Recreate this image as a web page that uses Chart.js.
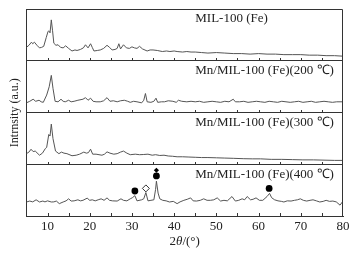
<!DOCTYPE html>
<html>
<head>
<meta charset="utf-8">
<script src="https://cdn.jsdelivr.net/npm/chart.js@4"></script>
<style>
  html, body { margin: 0; padding: 0; background: #fff; }
  #wrap { width: 354px; height: 256px; }
</style>
</head>
<body>
<div id="wrap"><canvas id="myChart"></canvas></div>
<script>
// XRD patterns, [2theta, intensity] — intensity is per panel, 0..100
const mil100 = [[5,26],[5.6,30],[6.2,36],[6.5,33],[6.9,36],[7.5,30],[8.1,25],[8.6,26],[9.1,28],[9.7,45],[10.1,56],[10.3,58],[10.6,54],[10.9,79],[11.2,58],[11.5,34],[12,30],[12.5,31],[13.1,26],[13.7,25],[14.3,29],[15,24],[15.8,19],[16.5,21],[17,20],[17.8,22],[18.5,25],[19,31],[19.6,25],[20.2,33],[20.6,26],[21,19],[21.8,20],[22.5,21],[23.3,24],[24.1,30],[24.7,26],[25.3,21],[26,22],[26.5,24],[26.9,33],[27.3,23],[28,31],[28.7,25],[29.4,24],[30,27],[30.6,25],[31.2,24],[31.8,28],[32.5,23],[33.6,19],[34.3,21],[35,21],[36,20],[37.2,18],[38.2,19],[39,18],[40,19],[40.7,18],[42,17],[43,18],[44,17],[45,17],[46.5,16],[48,15],[50,16],[52,15],[54,14],[56,14],[58,13],[60,14],[62,13],[64,13],[66,12],[68,12],[70,12],[72,11],[74,11],[76,10],[78,10],[80,9]];

const mn200 = [[5,19],[5.8,22],[6.6,26],[7.2,22],[8,24],[8.5,21],[9,20],[9.8,34],[10.4,50],[10.9,72],[11.3,47],[11.8,22],[12.5,21],[13.2,26],[13.7,22],[14.2,21],[15,24],[15.6,21],[16.3,22],[17.2,24],[18.4,26],[19,29],[19.6,24],[20.2,28],[20.8,22],[21.5,21],[22.5,21],[23.3,23],[24.1,29],[24.8,22],[25.6,23],[26.5,21],[27.3,23],[28.2,24],[29,22],[29.6,20],[30.4,22],[31.2,21],[32.3,19],[32.8,24],[33.2,37],[33.6,21],[34.5,20],[35.2,22],[35.7,28],[36.1,20],[37,21],[37.7,21],[38.6,23],[39.7,22],[40.5,20],[41,24],[41.8,22],[43,21],[44,22],[45,21],[46,22],[47,20],[48,21],[49,22],[50,21],[51,20],[52,22],[53,21],[54,26],[54.5,21],[55.5,21],[56.5,22],[57.5,20],[58.5,21],[59.5,22],[60.5,21],[61.5,20],[62.5,22],[63.5,21],[64.5,20],[65.5,22],[66.5,21],[67.5,20],[68.5,21],[69.5,22],[70.5,20],[71.5,21],[72.5,22],[73.5,20],[74.5,21],[75.5,22],[76.5,21],[77.5,20],[78.5,21],[80,21]];

const mn300 = [[5,21],[5.6,24],[6.1,29.5],[6.6,25],[7.1,26],[8.1,18],[8.8,22],[9.5,31],[9.8,33],[10.3,58],[10.6,55],[10.9,78],[11.3,50],[11.9,26],[12.7,21],[13.3,24],[13.9,22],[14.6,21],[15.8,17],[16.8,18],[17.6,20],[18.6,24],[19.2,22],[19.7,23],[20.2,29.6],[20.7,20],[21.5,20],[22.9,18],[23.5,20],[24.1,24.5],[24.8,22],[25.7,20],[26.5,21],[27.3,24],[28,26],[28.8,22],[29.6,19],[30.8,20],[31.8,19],[32.8,19.4],[33.8,20],[34.8,18],[35.6,19],[36.6,17.5],[37.6,18],[38.6,16.5],[39.6,16],[40.7,15],[42,15],[43.5,14.5],[45,14],[46.5,13.5],[48,13.5],[50,13],[52,12.5],[54,12],[56.5,11.3],[58.5,11],[60.5,11],[63,10],[65.5,10],[68,9.5],[70.5,9],[73,9],[75.5,8.5],[78,8],[80,8]];

const mn400 = [[5,27.8],[5.8,29.6],[6.5,28],[7.3,32],[8.1,27.8],[8.9,29.6],[9.4,28],[10,30],[10.9,27.8],[11.5,28],[12.1,29.6],[12.8,24.6],[13.7,27.8],[14.4,30],[15,33.9],[15.6,29.6],[16.3,30],[17.2,32],[17.8,30],[18.4,31],[19.4,35.2],[20,31],[20.6,32],[21.3,30],[22,32],[22.7,33.9],[23.4,31],[24.1,35.7],[24.7,31],[25.4,30],[26.5,29.6],[27.4,33.9],[28,31],[28.8,30],[29.6,33.9],[30.1,36],[30.7,40],[31.2,30],[32.3,32],[32.8,34],[33.3,46],[33.8,30],[34.5,31],[35.2,32],[35.6,52],[35.8,68],[36.2,45],[36.6,33.9],[37.3,31],[38.1,30],[38.9,27.8],[39.8,29],[40.7,24.6],[41.4,28],[42.3,31],[43.1,33],[43.9,35.7],[44.5,30],[45.3,29.6],[46.2,31],[47,33.9],[47.8,31],[48.6,31],[49.4,32],[50.2,35.7],[51,29.6],[51.8,31],[52.6,30],[53.7,38.3],[54.5,29.6],[55.3,31],[56.1,33.9],[56.7,32],[57.3,38.3],[58.1,32],[58.7,33],[59.4,35.7],[60.2,31],[61,31],[62,38.3],[62.6,44.4],[63.1,36],[63.8,32],[64.6,30],[65.4,29],[66,27.8],[66.8,30],[67.7,29.6],[68.5,31],[69.2,32],[69.9,33.9],[70.6,31],[71.4,29.6],[72.2,31],[72.9,32],[73.7,30],[74.5,27.8],[75.3,29],[76,31],[76.8,29],[77.6,29.6],[78.4,28],[79.3,21.7],[80,29.6]];

// phase markers on the 400 °C pattern
const dotMarks = [[30.7,49],[35.8,78],[62.5,54]];
const openDiamondMarks = [[33.3,54]];
const smallDiamondMarks = [[35.8,89]];

const sampleNames = ['MIL-100 (Fe)', 'Mn/MIL-100 (Fe)(200 ℃)', 'Mn/MIL-100 (Fe)(300 ℃)', 'Mn/MIL-100 (Fe)(400 ℃)'];
const patterns = [mil100, mn200, mn300, mn400];
const panelOffsets = [300, 200, 100, 0];
const xTicks = [10, 20, 30, 40, 50, 60, 70, 80];

const serif = '"Liberation Serif", "Times New Roman", serif';
const lineColor = '#555';

const toPts = (arr, off) => arr.map(p => ({ x: p[0], y: p[1] + off }));

const datasets = patterns.map((p, i) => ({
  label: sampleNames[i],
  data: toPts(p, panelOffsets[i]),
  borderColor: lineColor,
  borderWidth: 1,
  pointRadius: 0,
  tension: 0,
  fill: false
}));

datasets.push({
  type: 'scatter', label: 'dot', data: toPts(dotMarks, 0),
  pointStyle: 'circle', pointRadius: 3.4, backgroundColor: '#000', borderColor: '#000', borderWidth: 0
});
datasets.push({
  type: 'scatter', label: 'open', data: toPts(openDiamondMarks, 0),
  pointStyle: 'rectRot', pointRadius: 3.5, backgroundColor: '#fff', borderColor: '#333', borderWidth: 1
});
datasets.push({
  type: 'scatter', label: 'small', data: toPts(smallDiamondMarks, 0),
  pointStyle: 'rectRot', pointRadius: 2.6, backgroundColor: '#000', borderColor: '#000', borderWidth: 0
});

// frame, inward ticks on every panel, sample names and the x title
const panelDecor = {
  id: 'panelDecor',
  afterDraw(chart) {
    const { ctx, chartArea: a, scales: { x, y } } = chart;
    ctx.save();
    ctx.strokeStyle = '#333';
    ctx.lineWidth = 1;
    ctx.beginPath();
    ctx.moveTo(a.left, a.top + 0.5);
    ctx.lineTo(a.right - 0.5, a.top + 0.5);
    ctx.lineTo(a.right - 0.5, a.bottom);
    ctx.stroke();

    ctx.beginPath();
    [0, 100, 200, 300].forEach(v => {
      const py = Math.round(y.getPixelForValue(v));
      for (let t = 10; t < 80; t += 5) {
        const px = Math.round(x.getPixelForValue(t)) + 0.5;
        ctx.moveTo(px, py);
        ctx.lineTo(px, py - 3);
      }
    });
    ctx.stroke();

    ctx.fillStyle = '#222';
    ctx.font = '13px ' + serif;
    ctx.textBaseline = 'middle';
    ctx.textAlign = 'left';
    sampleNames.forEach((name, i) => {
      const top = y.getPixelForValue(panelOffsets[i] + 100);
      ctx.fillText(name, x.getPixelForValue(45), top + 10);
    });

    // 2θ/(°) with italic theta
    const parts = [['2', ''], ['θ', 'italic '], ['/(°)', '']];
    let w = 0;
    parts.forEach(p => { ctx.font = p[1] + '13px ' + serif; w += ctx.measureText(p[0]).width; });
    let cx = (a.left + a.right) / 2 - w / 2;
    parts.forEach(p => {
      ctx.font = p[1] + '13px ' + serif;
      ctx.fillText(p[0], cx, 242);
      cx += ctx.measureText(p[0]).width;
    });
    ctx.restore();
  }
};

const myChart = new Chart(document.getElementById('myChart'), {
  type: 'line',
  data: { datasets },
  options: {
    responsive: true,
    maintainAspectRatio: false,
    animation: false,
    layout: { padding: { left: 4, right: 11, top: 9, bottom: 20 } },
    plugins: { legend: { display: false }, tooltip: { enabled: false } },
    scales: {
      x: {
        type: 'linear',
        min: 5,
        max: 80,
        afterBuildTicks: s => { s.ticks = xTicks.map(v => ({ value: v })); },
        grid: { display: false, drawTicks: false },
        border: { color: '#333', width: 1 },
        ticks: { color: '#222', font: { family: serif, size: 13 }, padding: 2, autoSkip: false, maxRotation: 0 }
      },
      y: {
        min: 0,
        max: 400,
        ticks: { display: false, stepSize: 100 },
        grid: {
          drawTicks: false,
          color: c => [100, 200, 300].includes(c.tick && c.tick.value) ? '#333' : 'rgba(0,0,0,0)'
        },
        border: { color: '#333', width: 1 },
        title: {
          display: true,
          text: 'Intrnsity (a.u.)',
          color: '#222',
          font: { family: serif, size: 12 },
          padding: { top: 4, bottom: 4 }
        }
      }
    }
  },
  plugins: [panelDecor]
});
</script>
</body>
</html>
